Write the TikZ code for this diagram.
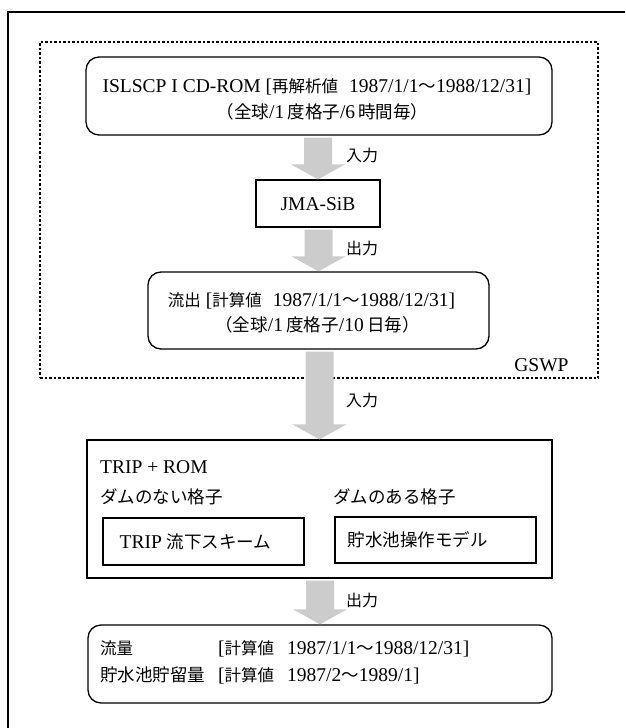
\documentclass[tikz,border=0pt]{standalone}
\usepackage{fontspec}
\setmainfont{Liberation Serif}
\newfontfamily\jpfont{Noto Sans CJK JP}
\usetikzlibrary{calc}
\newcommand\J[1]{{\jpfont\fontsize{17.5}{20}\selectfont #1}}
\newcommand\Jb[1]{{\jpfont\fontsize{16.5}{20}\selectfont #1}}
\newcommand\Js[1]{{\jpfont\fontsize{16}{20}\selectfont #1}}
\newcommand\blockarr[2]{%
  \fill[blockarrow] ($(#2 |- #1)+(-14,2)$) -- ($(#2 |- #1)+(14,2)$) -- ($(#2)+(14,-15)$) -- ($(#2)+(27,-15)$) -- (#2) -- ($(#2)+(-27,-15)$) -- ($(#2)+(-14,-15)$) -- cycle;}
\tikzset{
  frame/.style={line width=1.4pt},
  rbox/.style={draw,line width=1.3pt,rounded corners=13pt,inner sep=0pt},
  sbox/.style={draw,line width=1.2pt,inner sep=0pt},
  dotbox/.style={draw,line width=2.5pt,dash pattern=on 2.5pt off 2pt,inner sep=0pt},
  lbl/.style={inner sep=0pt,font=\fontsize{19.5}{22}\selectfont},
  blockarrow/.style={fill=black!20,draw=none}
}
\begin{document}
\begin{tikzpicture}[x=1pt,y=-1pt]
\useasboundingbox (0,0) rectangle (625,728);
% outer frame
\draw[frame] (8,728) -- (8,12) -- (625,12);
% boxes
\node[dotbox,minimum width=558pt,minimum height=336pt] (gswp) at (319,210) {};
\node[rbox,minimum width=466pt,minimum height=78pt] (b1) at (319,96) {};
\node[sbox,minimum width=124pt,minimum height=47pt] (jma) at (318,203.5) {};
\node[rbox,minimum width=341pt,minimum height=77pt] (b2) at (318.5,310.5) {};
\node[sbox,minimum width=465pt,minimum height=138pt] (trip) at (319.5,509) {};
\node[sbox,minimum width=201pt,minimum height=47pt] (nodam) at (203.5,541.5) {};
\node[sbox,minimum width=201pt,minimum height=46pt] (dam) at (435.5,540) {};
\node[rbox,minimum width=464pt,minimum height=78pt] (out) at (320,664) {};
% block arrows
\blockarr{b1.south}{jma.north}
\blockarr{jma.south}{b2.north}
\blockarr{b2.south}{trip.north}
\blockarr{trip.south}{out.north}
% texts
\node[lbl,anchor=base] (t1a) at (317,92.5) {ISLSCP I CD-ROM [\Jb{再解析値}\hspace{11pt}1987/1/1\J{〜}1988/12/31]};
\node[lbl,anchor=base] (t1b) at (322.5,118.5) {\J{（全球}/1\,\J{度格子}/6\,\J{時間毎）}};
\node[lbl,anchor=base] (tj) at (318,210) {JMA-SiB};
\node[lbl,anchor=base] (in1) at (362,161) {\Js{入力}};
\node[lbl,anchor=base] (out1) at (362,254) {\Js{出力}};
\node[lbl,anchor=base] (t2a) at (311.5,306.5) {\Jb{流出} [\Jb{計算値}\hspace{11pt}1987/1/1\J{〜}1988/12/31]};
\node[lbl,anchor=base] (t2b) at (317.5,331.5) {\J{（全球}/1\,\J{度格子}/10\,\J{日毎）}};
\node[lbl,anchor=base] (tg) at (541.5,371.5) {GSWP};
\node[lbl,anchor=base] (in2) at (362,406) {\Js{入力}};
\node[lbl,anchor=base west] (tt) at (100,473.5) {TRIP + ROM};
\node[lbl,anchor=base west] (tnd) at (100,503.5) {\J{ダムのない格子}};
\node[lbl,anchor=base west] (td) at (333,503.5) {\J{ダムのある格子}};
\node[lbl,anchor=base] (tnd2) at (195.5,548.5) {TRIP \J{流下スキーム}};
\node[lbl,anchor=base] (td2) at (417.5,546.5) {\J{貯水池操作モデル}};
\node[lbl,anchor=base] (out2) at (362,606) {\Js{出力}};
\node[lbl,anchor=base west] (r1a) at (100,654.5) {\Jb{流量}};
\node[lbl,anchor=base west] (r1b) at (218,654.5) {[\Jb{計算値}};
\node[lbl,anchor=base west] (r1c) at (287,654.5) {1987/1/1\J{〜}1988/12/31]};
\node[lbl,anchor=base west] (r2a) at (100,681.5) {\J{貯水池貯留量}};
\node[lbl,anchor=base west] (r2b) at (218,681.5) {[\Jb{計算値}};
\node[lbl,anchor=base west] (r2c) at (287,681.5) {1987/2\J{〜}1989/1]};
\end{tikzpicture}
\end{document}
